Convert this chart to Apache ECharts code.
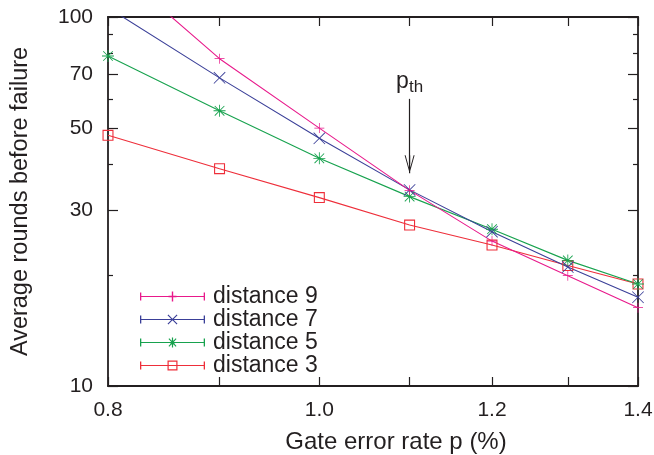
<!DOCTYPE html>
<html>
<head>
<meta charset="utf-8">
<script src="https://cdn.jsdelivr.net/npm/echarts@6/dist/echarts.min.js"></script>
<style>
  html, body { margin: 0; padding: 0; background: #fff; }
  #chart { width: 654px; height: 455px; }
</style>
</head>
<body>
<div id="chart"></div>
<script>
// gate error rate p (%)
var gateError = [0.8, 0.9, 1.0, 1.1, 1.2, 1.3, 1.4]
// average rounds before failure
var dist9 = [141, 77.1, 50.0, 33.9, 24.7, 19.9, 16.3]
var dist7 = [106, 68.4, 46.9, 34.0, 26.2, 21.0, 17.4]
var dist5 = [78.4, 55.7, 41.4, 32.6, 26.6, 21.9, 18.9]
var dist3 = [47.8, 38.8, 32.4, 27.3, 24.1, 21.2, 18.9]

var xTicks = [0.8, 0.9, 1.0, 1.1, 1.2, 1.3, 1.4]
var xLabels = [0.8, 1.0, 1.2, 1.4]
var yMajor = [10, 30, 50, 70, 100]
var yMinor = [20, 40, 60, 80, 90]
var pth = 1.1
var arrowFrom = 60
var arrowTo = 39.9

var FONT = "'Liberation Sans', Arial, Helvetica, sans-serif"
var INK = '#231f20'

// marker shapes, 20x20 box
var SYM = {
  plus: 'path://M9.3,0h1.4v20h-1.4zM0,9.3h20v1.4h-20z',
  cross: 'path://M0,1L1,0L20,19L19,20zM19,0L20,1L1,20L0,19z',
  star: 'path://M9.3,0h1.4v20h-1.4zM0,9.3h20v1.4h-20zM1.5,2.5L2.5,1.5L18.5,17.5L17.5,18.5zM17.5,1.5L18.5,2.5L2.5,18.5L1.5,17.5z',
  square: 'path://M0,0h20v2h-20zM0,18h20v2h-20zM0,0h2v20h-2zM18,0h2v20h-2z'
}

// legend icons: errorbar line with caps + marker, 65x10 box
var BAR = 'M0,4.4h65v1.2h-65zM0,1h1.3v8h-1.3zM63.7,1h1.3v8h-1.3z'
var ICON = {
  plus: 'path://' + BAR + 'M31.8,0h1.4v10h-1.4zM28.5,4.2h8v1.6h-8z',
  cross: 'path://' + BAR + 'M27.5,0.8L28.3,0L37.5,9.2L36.7,10zM36.7,0L37.5,0.8L28.3,10L27.5,9.2z',
  star: 'path://' + BAR + 'M31.9,0h1.2v10h-1.2zM28.5,1.5L29.3,0.7L36.5,8.5L35.7,9.3zM35.7,0.7L36.5,1.5L29.3,9.3L28.5,8.5zM30.5,3h4v4h-4z',
  square: 'path://' + BAR + 'M27.5,0h10v1.2h-10zM27.5,8.8h10v1.2h-10zM27.5,0h1.2v10h-1.2zM36.3,0h1.2v10h-1.2z'
}

var ARROW = 'path://M5,0L10,18L9,18L5,3.5L1,18L0,18zM4.4,0h1.2v18h-1.2z'

function pairs(ys) {
  return gateError.map(function (x, i) { return [x, ys[i]] })
}

function mkSeries(name, ys, color, sym, size) {
  return {
    name: name,
    type: 'line',
    data: pairs(ys),
    symbol: SYM[sym],
    symbolSize: size,
    showSymbol: true,
    clip: true,
    lineStyle: { color: color, width: 1.1 },
    itemStyle: { color: color, borderWidth: 0 },
    emphasis: { disabled: true }
  }
}

var chart = echarts.init(document.getElementById('chart'), null, { renderer: 'canvas' })

var xBase = {
  type: 'log',
  min: 0.8,
  max: 1.4,
  logBase: 10,
  splitLine: { show: false },
  axisLine: { lineStyle: { color: INK, width: 1.8 } },
  axisTick: { inside: true, length: 9, customValues: xTicks, lineStyle: { color: INK, width: 1.2 } }
}
var yBase = {
  type: 'log',
  min: 10,
  max: 100,
  logBase: 10,
  splitLine: { show: false },
  axisLine: { lineStyle: { color: INK, width: 1.8 } },
  axisTick: { inside: true, length: 10, customValues: yMajor, lineStyle: { color: INK, width: 1.2 } }
}

function withOpts(base, extra) {
  var o = JSON.parse(JSON.stringify(base))
  for (var k in extra) o[k] = extra[k]
  return o
}

var option = {
  animation: false,
  backgroundColor: '#fff',
  textStyle: { fontFamily: FONT },
  grid: { left: 108, right: 16, top: 17, bottom: 69, containLabel: false, outerBoundsMode: 'none' },
  legend: {
    orient: 'vertical',
    left: 135,
    top: 280,
    itemWidth: 65,
    itemHeight: 10,
    itemGap: 0,
    selectedMode: false,
    itemStyle: { borderWidth: 0 },
    textStyle: { fontFamily: FONT, fontSize: 23, lineHeight: 22.7, color: INK, padding: [0, 0, 0, 3] },
    data: [
      { name: 'distance 9', icon: ICON.plus },
      { name: 'distance 7', icon: ICON.cross },
      { name: 'distance 5', icon: ICON.star },
      { name: 'distance 3', icon: ICON.square }
    ]
  },
  xAxis: [
    withOpts(xBase, {
      position: 'bottom',
      name: 'Gate error rate p (%)',
      nameLocation: 'middle',
      nameGap: 44,
      nameTextStyle: { fontFamily: FONT, fontSize: 24, color: INK, padding: [0, 0, 0, 46] },
      axisLabel: {
        customValues: xLabels,
        fontFamily: FONT, fontSize: 21, color: INK, margin: 14,
        formatter: function (v) { return Number(v).toFixed(1) }
      }
    }),
    withOpts(xBase, { position: 'top', axisLabel: { show: false } })
  ],
  yAxis: [
    withOpts(yBase, {
      position: 'left',
      name: 'Average rounds before failure',
      nameLocation: 'middle',
      nameGap: 75,
      nameTextStyle: { fontFamily: FONT, fontSize: 23.5, color: INK },
      axisLabel: {
        customValues: yMajor,
        fontFamily: FONT, fontSize: 21, color: INK, margin: 15,
        formatter: function (v) { return String(Math.round(v)) }
      }
    }),
    withOpts(yBase, {
      position: 'left',
      axisLine: { show: false },
      axisLabel: { show: false },
      axisTick: { inside: true, length: 5, customValues: yMinor, lineStyle: { color: INK, width: 1.2 } }
    }),
    withOpts(yBase, { position: 'right', axisLabel: { show: false } }),
    withOpts(yBase, {
      position: 'right',
      axisLine: { show: false },
      axisLabel: { show: false },
      axisTick: { inside: true, length: 5, customValues: yMinor, lineStyle: { color: INK, width: 1.2 } }
    })
  ],
  series: [
    mkSeries('distance 3', dist3, '#ee2e3a', 'square', 11),
    mkSeries('distance 5', dist5, '#17a24e', 'star', 12),
    mkSeries('distance 7', dist7, '#3a3f98', 'cross', 12),
    mkSeries('distance 9', dist9, '#e8198b', 'plus', 10)
  ]
}

// threshold arrow
option.series[2].markLine = {
  silent: true,
  symbol: ['none', ARROW],
  symbolSize: [10, 18],
  lineStyle: { color: INK, width: 1.2, type: 'solid' },
  label: {
    show: true,
    position: 'start',
    distance: 3,
    formatter: '{p|p}{s|th}',
    rich: {
      p: { fontFamily: FONT, fontSize: 23, color: INK },
      s: { fontFamily: FONT, fontSize: 17, color: INK, padding: [12, 0, 0, 0] }
    }
  },
  data: [[{ coord: [pth, arrowFrom] }, { coord: [pth, arrowTo] }]]
}

chart.setOption(option)
</script>
</body>
</html>
